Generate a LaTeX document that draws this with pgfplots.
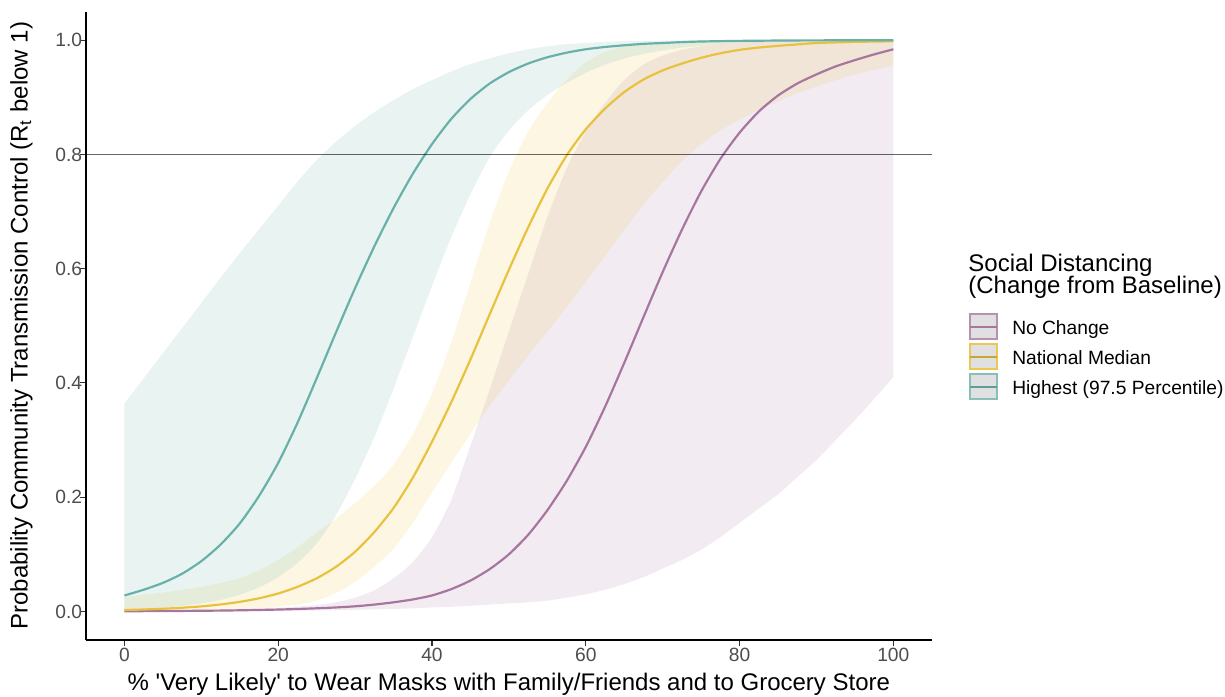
\documentclass[border=0pt]{standalone}
\usepackage{fontspec}
\setmainfont{Liberation Sans}
\usepackage{pgfplots}
\pgfplotsset{compat=1.18}
\usepgfplotslibrary{fillbetween}
\usepackage{pgfplotstable}
\definecolor{cteal}{RGB}{104,176,168}
\definecolor{cyel}{RGB}{232,194,62}
\definecolor{cpur}{RGB}{166,118,158}
\definecolor{tickgray}{RGB}{77,77,77}

\pgfplotstableread{
x lo mid hi
0 0.0032 0.0279 0.364
2.5 0.0046 0.038 0.408
5 0.0067 0.050 0.452
7.5 0.0097 0.066 0.496
10 0.0141 0.088 0.540
12.5 0.0203 0.117 0.584
15 0.0293 0.154 0.627
17.5 0.042 0.202 0.669
20 0.060 0.260 0.710
22.5 0.085 0.330 0.752
25 0.119 0.408 0.790
27.5 0.168 0.488 0.822
30 0.232 0.566 0.850
32.5 0.305 0.639 0.874
35 0.390 0.706 0.895
37.5 0.480 0.766 0.914
40 0.570 0.818 0.930
42.5 0.655 0.862 0.945
45 0.730 0.897 0.958
47.5 0.795 0.924 0.968
50 0.842 0.944 0.977
52.5 0.877 0.959 0.984
55 0.904 0.970 0.989
57.5 0.925 0.978 0.993
60 0.943 0.984 0.995
62.5 0.957 0.988 0.997
65 0.968 0.991 0.998
67.5 0.976 0.9935 0.9985
70 0.982 0.995 0.999
72.5 0.987 0.9966 0.9993
75 0.990 0.9976 0.9995
77.5 0.993 0.9982 0.9996
80 0.995 0.9987 0.9997
82.5 0.996 0.999 0.9998
85 0.997 0.9993 0.9998
87.5 0.9975 0.9995 0.9999
90 0.998 0.9996 0.9999
92.5 0.998 0.9997 1
95 0.9985 0.9998 1
97.5 0.999 0.9999 1
100 0.999 0.9999 1
}\tealdata

\pgfplotstableread{
x lo mid hi
0 0.0005 0.0025 0.025
2.5 0.0007 0.0034 0.029
5 0.001 0.0047 0.033
7.5 0.0014 0.0065 0.038
10 0.002 0.0089 0.043
12.5 0.0028 0.0122 0.050
15 0.004 0.0168 0.058
17.5 0.0057 0.023 0.072
20 0.008 0.0314 0.090
22.5 0.012 0.043 0.112
25 0.019 0.058 0.138
27.5 0.032 0.078 0.162
30 0.052 0.1045 0.190
32.5 0.078 0.139 0.220
35 0.110 0.181 0.257
37.5 0.155 0.234 0.310
40 0.208 0.297 0.382
42.5 0.260 0.366 0.470
45 0.311 0.441 0.575
47.5 0.360 0.520 0.680
50 0.405 0.598 0.770
52.5 0.448 0.672 0.840
55 0.490 0.740 0.890
57.5 0.533 0.798 0.930
60 0.577 0.844 0.961
62.5 0.622 0.880 0.979
65 0.668 0.909 0.989
67.5 0.712 0.931 0.994
70 0.752 0.947 0.997
72.5 0.788 0.959 0.998
75 0.818 0.969 0.999
77.5 0.842 0.977 0.9995
80 0.861 0.983 1
82.5 0.878 0.987 1
85 0.893 0.990 1
87.5 0.907 0.9925 1
90 0.919 0.995 1
92.5 0.930 0.996 1
95 0.940 0.997 1
97.5 0.948 0.9975 1
100 0.956 0.998 1
}\yeldata

\pgfplotstableread{
x lo mid hi
0 0.0001 0.0004 0.0008
2.5 0.0001 0.0005 0.0011
5 0.0001 0.0007 0.0014
7.5 0.0002 0.0009 0.0019
10 0.0003 0.0012 0.0025
12.5 0.0004 0.0015 0.0032
15 0.0005 0.002 0.004
17.5 0.0007 0.0026 0.0052
20 0.001 0.0033 0.0065
22.5 0.0013 0.0043 0.0085
25 0.0017 0.0055 0.011
27.5 0.0022 0.007 0.016
30 0.003 0.009 0.024
32.5 0.0037 0.012 0.037
35 0.0045 0.016 0.058
37.5 0.0055 0.021 0.086
40 0.007 0.028 0.130
42.5 0.0082 0.039 0.195
45 0.010 0.054 0.290
47.5 0.012 0.074 0.388
50 0.014 0.100 0.490
52.5 0.016 0.134 0.590
55 0.019 0.177 0.690
57.5 0.024 0.228 0.775
60 0.030 0.288 0.840
62.5 0.038 0.358 0.890
65 0.048 0.435 0.930
67.5 0.060 0.515 0.957
70 0.075 0.594 0.973
72.5 0.090 0.668 0.983
75 0.108 0.735 0.989
77.5 0.130 0.792 0.993
80 0.155 0.838 0.995
82.5 0.180 0.875 0.997
85 0.205 0.903 0.998
87.5 0.235 0.924 0.999
90 0.265 0.940 0.999
92.5 0.300 0.954 0.999
95 0.335 0.965 0.9995
97.5 0.372 0.975 0.9995
100 0.410 0.984 0.9995
}\purdata

\begin{document}
\begin{tikzpicture}
\begin{axis}[
  at={(39.41pt,-293.3pt)}, anchor=south west,
  scale only axis, width=387.6pt, height=288.0pt,
  xmin=-5, xmax=105, ymin=-0.05, ymax=1.05,
  axis x line*=bottom, axis y line*=left,
  axis line style={black, line width=0.6pt, -},
  xtick={0,20,40,60,80,100},
  xticklabels={0,20,40,60,80,100},
  ytick={0,0.2,0.4,0.6,0.8,1},
  yticklabels={0.0,0.2,0.4,0.6,0.8,1.0},
  tick align=outside, major tick length=2.75pt,
  tick style={line width=0.5pt, color=black!80},
  ticklabel style={font=\fontsize{8.8}{10.5}\selectfont, text=tickgray, inner sep=0pt},
  xticklabel style={anchor=north, yshift=-0.6pt},
  yticklabel style={anchor=east, xshift=1.2pt},
  xlabel={\% \textquotesingle Very Likely\textquotesingle{} to Wear Masks with Family/Friends and to Grocery Store},
  ylabel={Probability Community Transmission Control (R\textsubscript{t} below 1)},
  label style={font=\fontsize{11}{13}\selectfont, inner sep=0pt},
  xlabel style={at={(axis description cs:0.5,-0.0796)}, anchor=base},
  ylabel style={at={(axis description cs:-0.0627,0.5)}, anchor=south, rotate=0},
  every axis plot/.append style={smooth, tension=0.4},
]
% centre lines
\addplot[cpur, line width=1pt] table[x=x, y=mid] {\purdata};
\addplot[cyel, line width=1pt] table[x=x, y=mid] {\yeldata};
\addplot[cteal, line width=1pt] table[x=x, y=mid] {\tealdata};
% ribbons
\addplot[draw=none, name path=ph] table[x=x, y=hi] {\purdata};
\addplot[draw=none, name path=pl] table[x=x, y=lo] {\purdata};
\addplot[fill=cpur, fill opacity=0.15, draw=none] fill between[of=ph and pl];
\addplot[draw=none, name path=yh] table[x=x, y=hi] {\yeldata};
\addplot[draw=none, name path=yl] table[x=x, y=lo] {\yeldata};
\addplot[fill=cyel, fill opacity=0.15, draw=none] fill between[of=yh and yl];
\addplot[draw=none, name path=th] table[x=x, y=hi] {\tealdata};
\addplot[draw=none, name path=tl] table[x=x, y=lo] {\tealdata};
\addplot[fill=cteal, fill opacity=0.15, draw=none] fill between[of=th and tl];
% threshold
\addplot[black, opacity=0.6, line width=0.6pt, sharp plot] coordinates {(-5,0.8) (105,0.8)};
\end{axis}
% legend
\node[anchor=base west, inner sep=0pt, font=\fontsize{11}{13}\selectfont] at (443.6pt,-124.5pt) {Social Distancing};
\node[anchor=base west, inner sep=0pt, font=\fontsize{11}{13}\selectfont] at (443.6pt,-134.4pt) {(Change from Baseline)};
\draw[cpur!80, line width=0.8pt, fill=black!12] (444.6pt,-143.8pt) rectangle (457.0pt,-155.5pt);
\draw[cpur, line width=0.9pt] (444.6pt,-149.65pt) -- (457.0pt,-149.65pt);
\draw[cyel!90, line width=0.8pt, fill=black!12] (444.6pt,-157.55pt) rectangle (457.0pt,-169.25pt);
\draw[cyel!85!black, line width=0.9pt] (444.6pt,-163.4pt) -- (457.0pt,-163.4pt);
\draw[cteal!80, line width=0.8pt, fill=black!12] (444.6pt,-171.3pt) rectangle (457.0pt,-183.0pt);
\draw[cteal!90!black, line width=0.9pt] (444.6pt,-177.15pt) -- (457.0pt,-177.15pt);
\node[anchor=base west, inner sep=0pt, font=\fontsize{8.8}{10.5}\selectfont] at (463.7pt,-153.1pt) {No Change};
\node[anchor=base west, inner sep=0pt, font=\fontsize{8.8}{10.5}\selectfont] at (463.7pt,-166.85pt) {National Median};
\node[anchor=base west, inner sep=0pt, font=\fontsize{8.8}{10.5}\selectfont] at (463.7pt,-180.6pt) {Highest (97.5 Percentile)};
\pgfresetboundingbox
\path[use as bounding box] (0,0) rectangle (561.4pt,-319pt);
\end{tikzpicture}
\end{document}
